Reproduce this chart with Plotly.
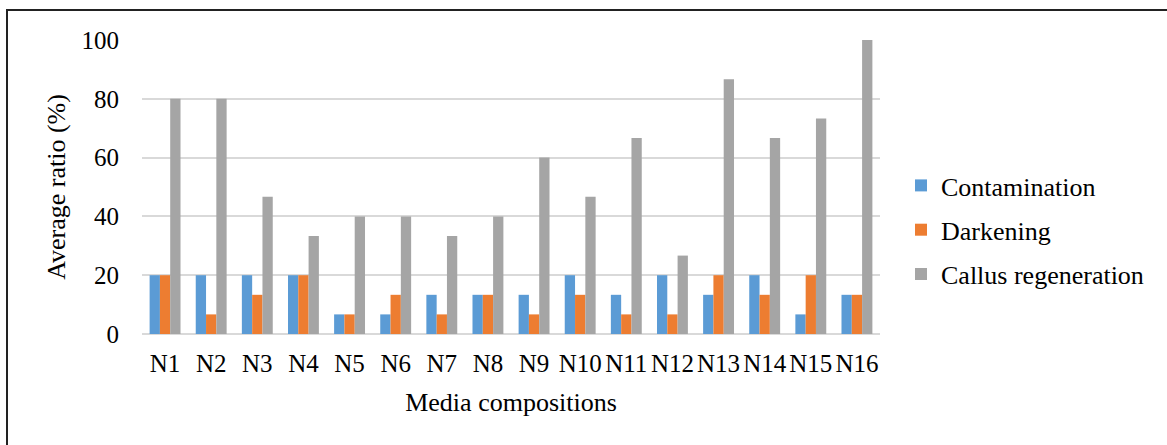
import plotly.graph_objects as go

categories = ["N1", "N2", "N3", "N4", "N5", "N6", "N7", "N8",
              "N9", "N10", "N11", "N12", "N13", "N14", "N15", "N16"]
contamination = [20, 20, 20, 20, 6.67, 6.67, 13.33, 13.33,
                 13.33, 20, 13.33, 20, 13.33, 20, 6.67, 13.33]
darkening = [20, 6.67, 13.33, 20, 6.67, 13.33, 6.67, 13.33,
             6.67, 13.33, 6.67, 6.67, 20, 13.33, 20, 13.33]
callus = [80, 80, 46.67, 33.33, 40, 40, 33.33, 40,
          60, 46.67, 66.67, 26.67, 86.67, 66.67, 73.33, 100]
y_ticks = [0, 20, 40, 60, 80, 100]

FONT = "'Liberation Serif', 'Times New Roman', Times, serif"
W, H = 1167, 445
ML, MR, MT, MB = 142, 287, 40, 111
PW = W - ML - MR
PH = H - MT - MB

def px_x(p):
    return (p - ML) / PW

def px_y(p):
    return (H - MB - p) / PH

fig = go.Figure()
series = [("Contamination", contamination, "#5B9BD5"),
          ("Darkening", darkening, "#ED7D31"),
          ("Callus regeneration", callus, "#A5A5A5")]
for i, (name, vals, col) in enumerate(series):
    fig.add_trace(go.Bar(x=categories, y=vals, name=name,
                         marker=dict(color=col, line=dict(width=0)),
                         legendgroup=f"g{i}"))

fig.update_layout(
    width=W, height=H,
    margin=dict(l=ML, r=MR, t=MT, b=MB, autoexpand=False),
    paper_bgcolor="white", plot_bgcolor="white",
    barmode="group", bargap=0.33, bargroupgap=0,
    font=dict(family=FONT, size=25, color="black"),
    showlegend=True,
    legend=dict(x=px_x(901), xanchor="left", y=px_y(230), yanchor="middle",
                traceorder="grouped", tracegroupgap=7.5,
                font=dict(family=FONT, size=26, color="black"),
                bgcolor="rgba(0,0,0,0)"),
    xaxis=dict(showgrid=False, showline=False, zeroline=False,
               tickfont=dict(family=FONT, size=25, color="black"),
               ticks="", ticklabelstandoff=12,
               title=dict(text="Media compositions", standoff=16,
                          font=dict(family=FONT, size=26, color="black"))),
    yaxis=dict(range=[0, 100], tickvals=y_ticks, showgrid=True,
               gridcolor="#D9D9D9", gridwidth=1.5,
               zeroline=True, zerolinecolor="#D9D9D9", zerolinewidth=1.5,
               showline=False, ticks="", ticklabelstandoff=22,
               tickfont=dict(family=FONT, size=25, color="black"),
               title=dict(text="Average ratio (%)", standoff=8,
                          font=dict(family=FONT, size=26, color="black"))),
    shapes=[dict(type="rect", xref="paper", yref="paper",
                 x0=px_x(7), x1=px_x(1200), y0=px_y(480), y1=px_y(10),
                 line=dict(color="#222222", width=2), fillcolor="rgba(0,0,0,0)",
                 layer="above")],
)

fig.write_html("out.html", config={"displayModeBar": False},
               post_script="document.body.style.margin='0px';document.body.style.overflow='hidden';")
